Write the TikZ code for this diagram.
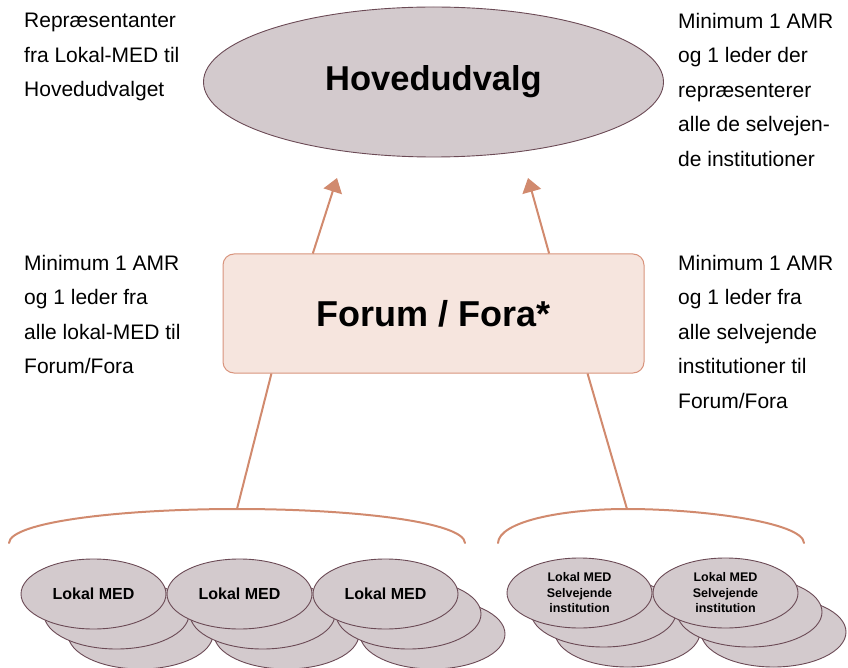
\documentclass[tikz,border=0pt]{standalone}
\usepackage{fontspec}
\setmainfont{Liberation Sans}
\usetikzlibrary{shapes.geometric,arrows.meta,calc}
\definecolor{ellfill}{HTML}{D3CACD}
\definecolor{elldraw}{HTML}{6B4A55}
\definecolor{boxfill}{HTML}{F6E5DE}
\definecolor{boxdraw}{HTML}{D8937C}
\definecolor{linkcol}{HTML}{D18A6E}
\tikzset{
  oval/.style={ellipse, fill=ellfill, draw=elldraw, line width=0.9pt, inner sep=0pt},
  medoval/.style={oval, minimum width=145pt, minimum height=70pt, font=\bfseries\fontsize{16}{18}\selectfont},
  selvoval/.style={oval, minimum width=145pt, minimum height=70pt, align=center, font=\bfseries\fontsize{12.5}{15.5}\selectfont},
  forumbox/.style={rectangle, rounded corners=11pt, fill=boxfill, draw=boxdraw, line width=1pt, minimum width=421pt, minimum height=119pt, font=\bfseries\fontsize{36}{40}\selectfont},
  link/.style={draw=linkcol, line width=2pt},
  linkarrow/.style={link, -{Triangle[length=14pt,width=19pt]}},
  sidetext/.style={anchor=north west, inner sep=0pt, align=left, font=\fontsize{21}{34.5}\selectfont},
}
\begin{document}
\begin{tikzpicture}[x=1pt,y=-1pt]
\useasboundingbox (0,0) rectangle (848,668);

% top ellipse
\node[oval, minimum width=460pt, minimum height=150pt, font=\bfseries\fontsize{34.5}{38}\selectfont] (hoved) at (433.5,82) {Hovedudvalg};

% forum box
\node[forumbox] (forum) at (433.5,313.5) {Forum / Fora*};

% arrow tips
\coordinate (tipL) at (337,178);
\coordinate (tipR) at (528,178);
\draw[linkarrow] ($(forum.north west)!0.214!(forum.north east)$) -- (tipL);
\draw[linkarrow] ($(forum.north west)!0.774!(forum.north east)$) -- (tipR);

% braces
\coordinate (braceLl) at (9,543);
\coordinate (braceLp) at (237,509);
\coordinate (braceLr) at (465,543);
\coordinate (braceRl) at (498,543);
\coordinate (braceRp) at (627,509);
\coordinate (braceRr) at (804,543);
\draw[link, line cap=round] (braceLl) .. controls (10,522) and (120,509) .. (braceLp) .. controls (354,509) and (464,522) .. (braceLr);
\draw[link, line cap=round] (braceRl) .. controls (499,522) and (560,509) .. (braceRp) .. controls (700,509) and (803,522) .. (braceRr);
\draw[link] ($(forum.south west)!0.116!(forum.south east)$) -- (braceLp);
\draw[link] ($(forum.south west)!0.865!(forum.south east)$) -- (braceRp);

% stacks: back layers
\node[medoval] (m1c) at (140.5,634) {};
\node[medoval] (m2c) at (286.5,634) {};
\node[medoval] (m3c) at (432.5,634) {};
\node[selvoval] (s1c) at (627.5,632) {};
\node[selvoval] (s2c) at (773.5,632) {};
\node[medoval] (m1b) at (116.5,614) {};
\node[medoval] (m2b) at (262.5,614) {};
\node[medoval] (m3b) at (408.5,614) {};
\node[selvoval] (s1b) at (603.5,612) {};
\node[selvoval] (s2b) at (749.5,612) {};
\node[medoval] (m1) at (93.5,594) {Lokal MED};
\node[medoval] (m2) at (239.5,594) {Lokal MED};
\node[medoval] (m3) at (385.5,594) {Lokal MED};
\node[selvoval] (s1) at (579.5,593) {Lokal MED\\Selvejende\\institution};
\node[selvoval] (s2) at (725.5,593) {Lokal MED\\Selvejende\\institution};

% side texts
\node[sidetext] (tl) at (24,13) {Repræsentanter\\fra Lokal-MED til\\Hovedudvalget};
\node[sidetext] (tr) at (678,13) {Minimum 1 AMR\\og 1 leder der\\repræsenterer\\alle de selvejen-\\de institutioner};
\node[sidetext] (ml) at (24,255) {Minimum 1 AMR\\og 1 leder fra\\alle lokal-MED til\\Forum/Fora};
\node[sidetext] (mr) at (678,255) {Minimum 1 AMR\\og 1 leder fra\\alle selvejende\\institutioner til\\Forum/Fora};
\end{tikzpicture}
\end{document}
